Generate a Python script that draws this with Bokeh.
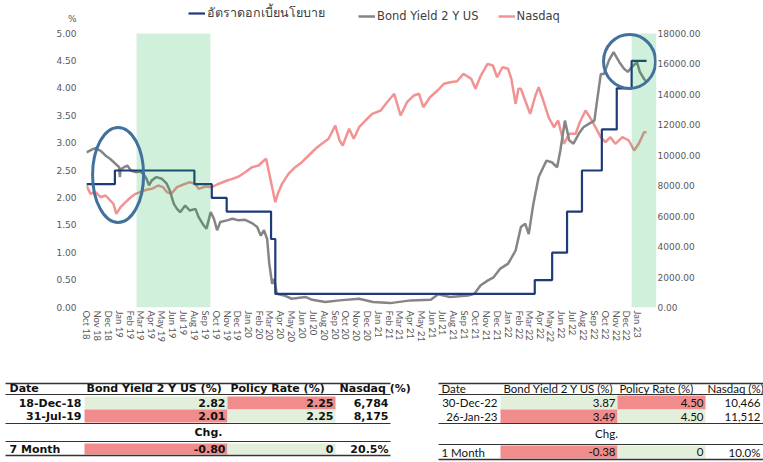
import pandas as pd
from bokeh.plotting import figure
from bokeh.models import (Range1d, LinearAxis, Legend, LegendItem, FixedTicker,
                          DatetimeTickFormatter, NumeralTickFormatter, ColumnDataSource)
from bokeh.core.properties import value
from bokeh.embed import file_html
from bokeh.resources import INLINE

# ---------------- data ----------------
bond_dates = ["2018-10-01", "2018-10-16", "2018-10-26", "2018-11-10", "2018-11-24", "2018-12-07",
              "2018-12-22", "2019-01-01", "2019-01-03", "2019-01-05", "2019-01-15", "2019-01-24",
              "2019-02-03", "2019-02-16", "2019-03-01", "2019-03-10", "2019-03-19", "2019-03-26",
              "2019-04-03", "2019-04-16", "2019-05-01", "2019-05-15", "2019-05-24", "2019-06-04",
              "2019-06-13", "2019-06-22", "2019-07-06", "2019-07-19", "2019-08-04", "2019-08-13",
              "2019-08-27", "2019-09-04", "2019-09-16", "2019-09-25", "2019-10-04", "2019-10-13",
              "2019-11-01", "2019-11-16", "2019-12-04", "2019-12-22", "2020-01-10", "2020-01-25",
              "2020-02-04", "2020-02-13", "2020-02-22", "2020-02-28", "2020-03-07", "2020-03-13",
              "2020-03-20", "2020-04-10", "2020-05-01", "2020-06-10", "2020-06-28", "2020-08-04",
              "2020-09-13", "2020-11-07", "2020-12-16", "2021-02-03", "2021-04-01", "2021-05-28",
              "2021-06-18", "2021-07-21", "2021-09-10", "2021-09-28", "2021-10-15", "2021-11-04",
              "2021-11-21", "2021-12-10", "2022-01-01", "2022-01-22", "2022-02-06", "2022-02-18",
              "2022-02-28", "2022-03-13", "2022-03-28", "2022-04-10", "2022-04-19", "2022-05-04",
              "2022-05-19", "2022-05-28", "2022-06-10", "2022-06-22", "2022-07-04", "2022-07-19",
              "2022-08-01", "2022-08-16", "2022-09-01", "2022-09-10", "2022-09-19", "2022-09-28",
              "2022-10-12", "2022-10-25", "2022-11-10", "2022-11-23", "2022-12-04", "2022-12-16",
              "2022-12-30", "2023-01-07", "2023-01-19", "2023-01-26"]
bond_vals = [2.83, 2.88, 2.91, 2.86, 2.77, 2.71,
             2.62, 2.56, 2.38, 2.52, 2.56, 2.59,
             2.50, 2.47, 2.48, 2.44, 2.35, 2.23,
             2.32, 2.38, 2.35, 2.26, 2.13, 1.89,
             1.80, 1.74, 1.86, 1.77, 1.80, 1.65,
             1.50, 1.44, 1.74, 1.62, 1.41, 1.56,
             1.59, 1.62, 1.59, 1.60, 1.54, 1.47,
             1.31, 1.41, 1.25, 0.80, 0.43, 0.52,
             0.25, 0.22, 0.16, 0.19, 0.14, 0.10,
             0.13, 0.16, 0.10, 0.08, 0.13, 0.14,
             0.24, 0.19, 0.22, 0.25, 0.40, 0.49,
             0.55, 0.71, 0.80, 1.04, 1.47, 1.53,
             1.34, 1.89, 2.38, 2.56, 2.68, 2.65,
             2.56, 2.86, 3.41, 3.05, 2.99, 3.17,
             3.29, 3.35, 3.41, 3.84, 4.26, 4.26,
             4.51, 4.66, 4.48, 4.36, 4.30, 4.39,
             4.48, 4.30, 4.17, 4.12]

nasdaq_dates = ["2018-10-01", "2018-10-12", "2018-10-26", "2018-11-10", "2018-11-24", "2018-12-07",
                "2018-12-16", "2018-12-24", "2019-01-05", "2019-01-19", "2019-02-03", "2019-02-16",
                "2019-03-01", "2019-03-19", "2019-04-03", "2019-04-21", "2019-05-05", "2019-05-16",
                "2019-05-28", "2019-06-13", "2019-07-01", "2019-07-19", "2019-08-04", "2019-08-13",
                "2019-09-01", "2019-09-19", "2019-10-04", "2019-11-01", "2019-11-16", "2019-12-04",
                "2019-12-22", "2020-01-10", "2020-01-29", "2020-02-13", "2020-02-19", "2020-02-28",
                "2020-03-07", "2020-03-16", "2020-03-23", "2020-04-04", "2020-04-22", "2020-05-11",
                "2020-05-30", "2020-06-18", "2020-07-07", "2020-07-25", "2020-08-13", "2020-09-01",
                "2020-09-13", "2020-09-22", "2020-10-10", "2020-10-23", "2020-11-07", "2020-11-25",
                "2020-12-14", "2021-01-07", "2021-01-25", "2021-02-14", "2021-03-04", "2021-03-22",
                "2021-04-10", "2021-04-25", "2021-05-07", "2021-05-26", "2021-06-16", "2021-07-04",
                "2021-07-22", "2021-08-10", "2021-08-28", "2021-09-19", "2021-10-01", "2021-10-16",
                "2021-11-04", "2021-11-19", "2021-12-01", "2021-12-16", "2022-01-01", "2022-01-10",
                "2022-01-22", "2022-01-30", "2022-02-06", "2022-02-18", "2022-03-04", "2022-03-19",
                "2022-03-28", "2022-04-10", "2022-04-25", "2022-05-10", "2022-05-22", "2022-06-07",
                "2022-06-22", "2022-07-10", "2022-07-22", "2022-08-07", "2022-08-22", "2022-09-04",
                "2022-09-19", "2022-10-02", "2022-10-16", "2022-10-30", "2022-11-19", "2022-12-07",
                "2022-12-22", "2023-01-04", "2023-01-19", "2023-01-26"]
nasdaq_vals = [8014, 7470, 7575, 7245, 7357, 7029,
               6812, 6155, 6589, 6917, 7245, 7468,
               7575, 7733, 7797, 8014, 7904, 7575,
               7470, 7904, 8080, 8233, 8124, 7797,
               7948, 7904, 8080, 8343, 8452, 8605,
               8890, 9216, 9328, 9656, 9768, 8783,
               7904, 6917, 7470, 8124, 8783, 9216,
               9545, 9985, 10425, 10753, 11082, 11956,
               10970, 10642, 11739, 11082, 11844, 12284,
               12724, 12941, 13486, 14038, 12612, 13486,
               13926, 14038, 13158, 13814, 14255, 14695,
               14800, 14866, 15351, 15023, 14366, 15240,
               16008, 15897, 15128, 15785, 15680, 15023,
               13381, 14366, 14366, 13598, 12724, 13926,
               14471, 13598, 12500, 11844, 12284, 10753,
               11410, 11410, 12173, 12941, 12395, 11844,
               11187, 10859, 11187, 10753, 11187, 10970,
               10313, 10753, 11515, 11512]

policy_dates = ["2018-10-01", "2018-12-20", "2019-08-01", "2019-09-19", "2019-10-31", "2020-03-04",
                "2020-03-16", "2022-03-17", "2022-05-05", "2022-06-16", "2022-07-28", "2022-09-22",
                "2022-11-03", "2022-12-15", "2023-01-26"]
policy_rates = [2.25, 2.50, 2.25, 2.00, 1.75, 1.25,
                0.25, 0.50, 1.00, 1.75, 2.50, 3.25,
                4.00, 4.50, 4.50]

shade_starts = ["2019-02-19", "2022-12-15"]
shade_ends = ["2019-09-15", "2023-02-23"]
circle_dates = ["2018-12-29", "2022-12-09"]
circle_vals = [2.42, 4.49]

month_ticks = pd.date_range("2018-10-01", "2023-01-01", freq="MS")
left_ticks = [0.0, 0.5, 1.0, 1.5, 2.0, 2.5, 3.0, 3.5, 4.0, 4.5, 5.0]
right_ticks = [0, 2000, 4000, 6000, 8000, 10000, 12000, 14000, 16000, 18000]
unit_label = "%"

legend_labels = ["อัตราดอกเบี้ยนโยบาย", "Bond Yield 2 Y US", "Nasdaq"]

table_headers = ["Date", "Bond Yield 2 Y US (%)", "Policy Rate (%)", "Nasdaq (%)"]
t1_dates = ["18-Dec-18", "31-Jul-19"]
t1_bond = ["2.82", "2.01"]
t1_policy = ["2.25", "2.25"]
t1_nasdaq = ["6,784", "8,175"]
t1_chg = ["7 Month", "-0.80", "0", "20.5%"]
t2_dates = ["30-Dec-22", "26-Jan-23"]
t2_bond = ["3.87", "3.49"]
t2_policy = ["4.50", "4.50"]
t2_nasdaq = ["10,466", "11,512"]
t2_chg = ["1 Month", "-0.38", "0", "10.0%"]

# ---------------- styles ----------------
NAVY = "#1F3A7A"
GREY = "#858585"
PINK = "#F29292"
CIRCLE = "#41719C"
SHADE = "#00AE41"
TXT = "#595959"
GREEN_CELL = "#E2EFDA"
RED_CELL = "#F08C8C"

dt = pd.to_datetime

# frame: page x 86..656, y 0..307 ; value 5.00 sits at y=33
Y_TOP = 5 * 307 / 274
R_TOP = 18000 * 307 / 274
PCT_POS = 5 * 289 / 274

# ---------------- main chart ----------------
p = figure(width=763, height=368, x_axis_type="datetime",
           x_range=Range1d(dt("2018-10-01"), dt("2023-02-23")),
           y_range=Range1d(0, Y_TOP), toolbar_location=None, output_backend="svg",
           min_border_left=86, min_border_right=107, min_border_top=0, min_border_bottom=61)
p.outline_line_color = None
p.grid.visible = False

p.extra_y_ranges = {"nasdaq": Range1d(0, R_TOP)}
right_axis = LinearAxis(y_range_name="nasdaq", ticker=FixedTicker(ticks=right_ticks),
                        formatter=NumeralTickFormatter(format="0.00"))
p.add_layout(right_axis, "right")

p.yaxis[0].ticker = FixedTicker(ticks=left_ticks + [PCT_POS])
p.yaxis[0].formatter = NumeralTickFormatter(format="0.00")
p.yaxis[0].major_label_overrides = {PCT_POS: unit_label}
p.xaxis[0].ticker = FixedTicker(ticks=[d.value / 1e6 for d in month_ticks])
p.xaxis[0].formatter = DatetimeTickFormatter(months="%b %y", days="%b %y", years="%b %y",
                                             hours="%b %y", minutes="%b %y")
p.xaxis[0].major_label_orientation = "vertical"

for ax in [p.xaxis[0], p.yaxis[0], right_axis]:
    ax.axis_line_color = None
    ax.major_tick_line_color = None
    ax.minor_tick_line_color = None
    ax.major_tick_out = 0
    ax.major_tick_in = 0
    ax.major_label_text_color = TXT
    ax.major_label_text_font = "DejaVu Sans"
    ax.major_label_text_font_size = "9px"
p.yaxis[0].major_label_standoff = 10
right_axis.major_label_standoff = 1
p.xaxis[0].major_label_standoff = 3
p.xaxis[0].major_label_text_font = "Lato"
p.xaxis[0].major_label_text_font_size = "9.5px"

r_nas = p.line(dt(nasdaq_dates), nasdaq_vals, y_range_name="nasdaq",
               line_color=PINK, line_width=2.5)
r_bond = p.line(dt(bond_dates), bond_vals, line_color=GREY, line_width=2.5)
r_pol = p.step(dt(policy_dates), policy_rates, mode="after", line_color=NAVY, line_width=2.2)

p.quad(left=dt(shade_starts), right=dt(shade_ends), bottom=0, top=5,
       fill_color=SHADE, fill_alpha=0.185, line_alpha=0)

circ = ColumnDataSource(dict(x=dt(circle_dates), y=circle_vals, w=[51, 52], h=[95, 54]))
p.ellipse(x="x", y="y", width="w", height="h", width_units="screen", height_units="screen",
          source=circ, fill_alpha=0, line_color=CIRCLE, line_width=3)

legend_style = dict(orientation="horizontal", margin=0, padding=2,
                    glyph_width=17, glyph_height=14, label_standoff=2,
                    border_line_alpha=0, background_fill_alpha=0,
                    label_text_font="DejaVu Sans", label_text_color="#404040")
legend_a = Legend(items=[LegendItem(label=legend_labels[0], renderers=[r_pol])],
                  location=(100, 282), label_width=128, label_text_font_size="12.5px",
                  **legend_style)
legend_b = Legend(items=[LegendItem(label=legend_labels[1], renderers=[r_bond]),
                         LegendItem(label=legend_labels[2], renderers=[r_nas])],
                  location=(270, 282), spacing=19, label_text_font_size="11.5px",
                  **legend_style)
p.add_layout(legend_a)
p.add_layout(legend_b)

# ---------------- tables ----------------
t = figure(width=763, height=94, x_range=Range1d(0, 763), y_range=Range1d(462, 368),
           toolbar_location=None, output_backend="svg", min_border=0,
           x_axis_location=None, y_axis_location=None)
t.outline_line_color = None
t.grid.visible = False


def draw_table(g, dates, bond, policy, nasdaq, chg, font, bold, size):
    style = "bold" if bold else "normal"
    c1, c2 = g["c1"], g["c2"]
    rows = g["rows"]
    last = g["last"]
    lefts, rights, tops, bottoms, colors = [], [], [], [], []
    bond_cols = [GREEN_CELL, RED_CELL, RED_CELL]
    pol_cols = [RED_CELL, GREEN_CELL, GREEN_CELL]
    for i, (ya, yb) in enumerate(rows + [last]):
        lefts += [c1[0], c2[0]]
        rights += [c1[1], c2[1]]
        tops += [ya, ya]
        bottoms += [yb, yb]
        colors += [bond_cols[i], pol_cols[i]]
    t.quad(left=lefts, right=rights, top=tops, bottom=bottoms, fill_color=colors, line_alpha=0)
    for k, yl in enumerate(g["lines"]):
        t.segment(x0=[g["x0"]], x1=[g["x1"]], y0=[yl], y1=[yl], line_color="#333333",
                  line_width=1.4 if k in (0, len(g["lines"]) - 1) else 1)
    xs, ys, txt, al = [], [], [], []
    hy = g["header_y"]
    for hx, h in zip(g["header_x"], table_headers):
        xs.append(hx); ys.append(hy); txt.append(h); al.append("left")
    for i, (ya, yb) in enumerate(rows):
        yc = (ya + yb) / 2
        xs += [g["date_right"], c1[1] - 2, c2[1] - 2, g["nas_right"]]
        ys += [yc] * 4
        txt += [dates[i], bond[i], policy[i], nasdaq[i]]
        al += ["right"] * 4
    xs.append(g["chg_x"]); ys.append(g["chg_y"]); txt.append("Chg."); al.append("center")
    yc = (last[0] + last[1]) / 2
    xs += [g["date_left"], c1[1] - 2, c2[1] - 2, g["nas_right"]]
    ys += [yc] * 4
    txt += chg
    al += ["left", "right", "right", "right"]
    src = ColumnDataSource(dict(x=xs, y=ys, text=txt, align=al))
    t.text(x="x", y="y", text="text", text_align="align", source=src,
           text_baseline="middle", text_font=value(font), text_font_style=style,
           text_font_size=size, text_color="#111111")


geo1 = dict(x0=5, x1=390, date_left=9, date_right=81, c1=(84, 227), c2=(227, 335),
            nas_right=388, header_x=[9, 86, 230, 339], header_y=388,
            lines=[383, 394, 423, 441, 455], rows=[(396, 409), (409, 422)],
            last=(443, 454), chg_x=208, chg_y=432)
geo2 = dict(x0=438, x1=763, date_left=441, date_right=497, c1=(500, 617), c2=(617, 705),
            nas_right=760, header_x=[441, 503, 619, 707], header_y=388,
            lines=[383, 394, 423, 444, 459], rows=[(395, 409), (409, 423)],
            last=(445, 458), chg_x=606, chg_y=433)

draw_table(geo1, t1_dates, t1_bond, t1_policy, t1_nasdaq, t1_chg, "DejaVu Sans", True, "11px")
draw_table(geo2, t2_dates, t2_bond, t2_policy, t2_nasdaq, t2_chg, "Lato", False, "11.5px")

open("out.html", "w").write(file_html([p, t], INLINE))
